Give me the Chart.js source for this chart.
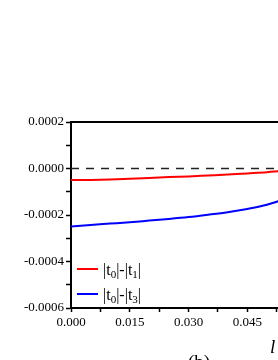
<!DOCTYPE html>
<html>
<head>
<meta charset="utf-8">
<script src="https://cdn.jsdelivr.net/npm/chart.js@4/dist/chart.umd.min.js"></script>
<style>
  html, body { margin: 0; padding: 0; background: #fff; overflow: hidden; }
  #wrap { position: relative; width: 326px; height: 360px; }
</style>
</head>
<body>
<div id="wrap"><canvas id="myChart"></canvas></div>
<script>
// valores (b)
const lValues = [0, 0.005, 0.01, 0.015, 0.02, 0.025, 0.03, 0.035, 0.04, 0.045, 0.05, 0.055, 0.06];
const diffT1 = [-0.000050, -0.000049, -0.000047, -0.000044, -0.000041, -0.000037, -0.000034, -0.000030, -0.000026, -0.000021, -0.000016, -0.000009, -0.000001];
const diffT3 = [-0.000249, -0.000243, -0.000237, -0.000231, -0.000224, -0.000217, -0.000209, -0.000199, -0.000188, -0.000174, -0.000156, -0.000128, -0.000090];
const zeroLine = [0, 0];
const zeroRange = [0, 0.06];
const xLabels = [0, 0.015, 0.03, 0.045, 0.06];
const yLabels = [0.0002, 0, -0.0002, -0.0004, -0.0006];
const seriesNames = ['|t₀|-|t₁|', '|t₀|-|t₃|'];

const SERIF = '"Liberation Serif", "Times New Roman", serif';

function toPoints(xs, ys) {
  return xs.map((x, i) => ({ x: x, y: ys[i] }));
}
function isLabel(list, v) {
  return list.some(t => Math.abs(t - v) < 1e-9);
}

// leyenda dentro del area del grafico, con subindices
const subDigits = { '₀': '0', '₁': '1', '₂': '2', '₃': '3' };
const insideLegend = {
  id: 'insideLegend',
  afterDraw(chart) {
    const c = chart.ctx, a = chart.chartArea;
    const items = chart.data.datasets.filter(d => !d.noLegend);
    c.save();
    items.forEach((d, i) => {
      const y = a.bottom - 39 + i * 25;
      c.strokeStyle = d.borderColor;
      c.lineWidth = 2;
      c.beginPath();
      c.moveTo(a.left + 6, y);
      c.lineTo(a.left + 27, y);
      c.stroke();
      let x = a.left + 32;
      c.fillStyle = '#000';
      c.textBaseline = 'alphabetic';
      for (const ch of d.label) {
        if (subDigits[ch]) {
          c.font = '11px ' + SERIF;
          c.fillText(subDigits[ch], x, y + 9);
          x += c.measureText(subDigits[ch]).width;
        } else {
          c.font = '16px ' + SERIF;
          c.fillText(ch, x, y + 6);
          x += c.measureText(ch).width;
        }
      }
    });
    // marco superior
    c.strokeStyle = '#000';
    c.lineWidth = 2;
    c.beginPath();
    c.moveTo(a.left, a.top);
    c.lineTo(a.right, a.top);
    c.lineTo(a.right, a.bottom);
    c.stroke();
    // titulo del eje y etiqueta del panel
    c.fillStyle = '#000';
    c.font = 'italic 19px ' + SERIF;
    c.textAlign = 'left';
    c.fillText('l', a.left + 199, a.bottom + 45);
    c.font = '19px ' + SERIF;
    c.textAlign = 'center';
    c.fillText('(b)', a.left + 128, a.bottom + 60);
    c.restore();
  }
};

const ctx = document.getElementById('myChart');
const myChart = new Chart(ctx, {
  type: 'line',
  data: {
    datasets: [
      {
        label: 'zero',
        noLegend: true,
        data: toPoints(zeroRange, zeroLine),
        borderColor: '#222',
        borderWidth: 1.5,
        borderDash: [8, 7],
        pointRadius: 0
      },
      {
        label: seriesNames[0],
        data: toPoints(lValues, diffT1),
        borderColor: '#ff0000',
        borderWidth: 2,
        pointRadius: 0,
        cubicInterpolationMode: 'monotone'
      },
      {
        label: seriesNames[1],
        data: toPoints(lValues, diffT3),
        borderColor: '#0000ff',
        borderWidth: 2,
        pointRadius: 0,
        cubicInterpolationMode: 'monotone'
      }
    ]
  },
  options: {
    responsive: true,
    maintainAspectRatio: false,
    animation: false,
    layout: { padding: { top: 122, right: 20, bottom: 0, left: 0 } },
    plugins: {
      legend: { display: false },
      tooltip: { enabled: false }
    },
    scales: {
      x: {
        type: 'linear',
        min: 0,
        max: 0.06,
        afterFit: (scale) => { scale.height = 52; },
        grid: { drawOnChartArea: false, drawTicks: true, tickLength: 4, tickColor: '#000', tickWidth: 1.5 },
        border: { display: true, color: '#000', width: 2 },
        ticks: {
          stepSize: 0.0075,
          autoSkip: false,
          maxRotation: 0,
          padding: 3,
          color: '#000',
          font: { family: SERIF, size: 13 },
          callback: (v) => isLabel(xLabels, v) ? v.toFixed(3) : ''
        }
      },
      y: {
        min: -0.0006,
        max: 0.0002,
        afterFit: (scale) => { scale.width = 71; },
        grid: { drawOnChartArea: false, drawTicks: true, tickLength: 5, tickColor: '#000', tickWidth: 1.5 },
        border: { display: true, color: '#000', width: 2 },
        ticks: {
          stepSize: 0.0001,
          autoSkip: false,
          padding: 2,
          color: '#000',
          font: { family: SERIF, size: 13 },
          callback: (v) => isLabel(yLabels, v) ? v.toFixed(4) : ''
        }
      }
    }
  },
  plugins: [insideLegend]
});
</script>
</body>
</html>
